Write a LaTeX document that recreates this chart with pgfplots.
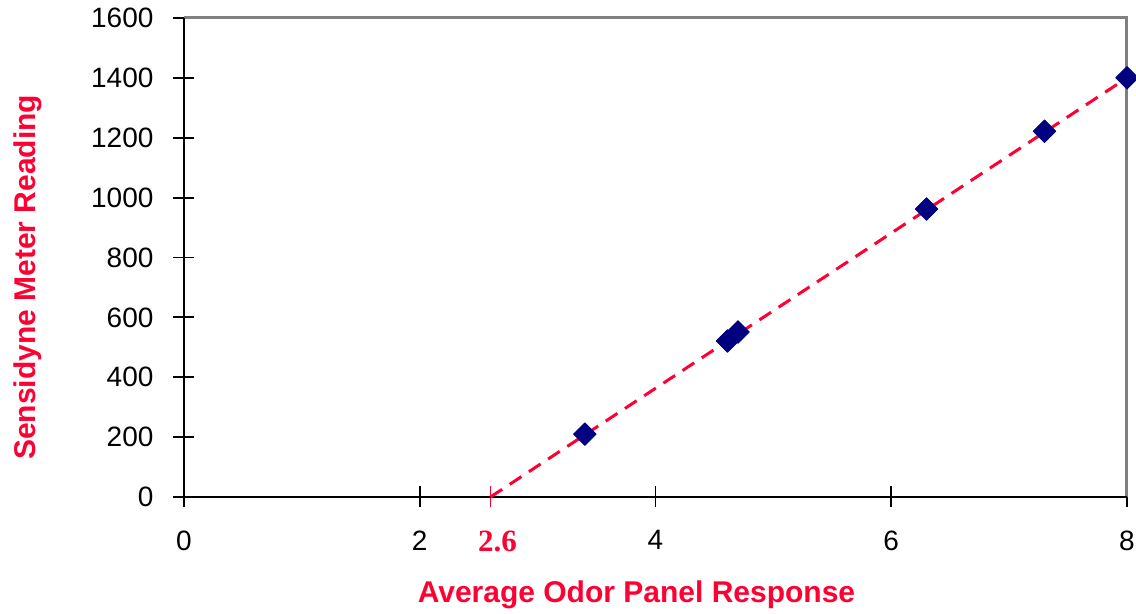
\documentclass[border=0pt]{standalone}
\usepackage{fontspec}
\setmainfont{Liberation Sans}
\newfontfamily\timesfont{Liberation Serif}
\usepackage{pgfplots}
\pgfplotsset{compat=1.18}

\definecolor{labelred}{RGB}{255,0,51}
\definecolor{markblue}{RGB}{0,0,128}
\definecolor{framegray}{RGB}{128,128,128}

% label for the zero-crossing of the fitted line
\newcommand{\zerolabel}{\mbox{\color{labelred}\timesfont\bfseries\fontsize{15.5}{18}\selectfont 2.6}}

\begin{document}
\begin{tikzpicture}
\useasboundingbox (-92pt,-58.5pt) rectangle (476pt,248.5pt);
\begin{axis}[
  at={(0,0)}, anchor=south west,
  scale only axis,
  width=471.5pt, height=239.5pt,
  xmin=0, xmax=8, ymin=0, ymax=1600,
  xtick={0,2,4,6,8},
  ytick={0,200,...,1600},
  axis line style={draw=none},
  tick pos=left,
  tick align=center,
  major tick length=10.5pt,
  tick style={black, line width=0.9pt},
  /pgf/number format/assume math mode=true,
  /pgf/number format/set thousands separator={},
  tick label style={font=\fontsize{14}{16.8}\selectfont},
  yticklabel style={xshift=-6.5pt},
  xticklabel style={yshift=-8pt},
  extra x ticks={2.6},
  extra x tick labels={\zerolabel},
  extra x tick style={
    tick style={labelred, line width=0.5pt},
    xticklabel style={xshift=3.5pt},
  },
  clip=false,
]
% frame: black left/bottom, grey top/right
\draw[framegray, line width=1.5pt] (axis cs:0,1600) -- (axis cs:8,1600) -- (axis cs:8,0);
\draw[black, line width=1pt] (axis cs:0,1600) -- (axis cs:0,0) -- (axis cs:8,0);

% measured points
\addplot[only marks, mark=square*, mark size=4pt,
  mark options={rotate=45, fill=markblue, draw=markblue, line join=round}]
  coordinates {
    (3.40,210) (4.61,521) (4.70,551) (6.30,962) (7.30,1222) (8.00,1400)
  };

% fitted line, crossing zero at 2.6
\addplot[labelred, line width=1.5pt, dash pattern=on 7pt off 4.5pt]
  coordinates { (2.6,0) (8.0,1400) };
\end{axis}

\node[rotate=90, anchor=base west, text=labelred,
  font=\bfseries\fontsize{15}{18}\selectfont] at (-74pt,15pt)
  {Sensidyne Meter Reading};
\node[anchor=base, text=labelred,
  font=\bfseries\fontsize{15}{18}\selectfont] at (226.25pt,-53pt)
  {Average Odor Panel Response};
\end{tikzpicture}
\end{document}
